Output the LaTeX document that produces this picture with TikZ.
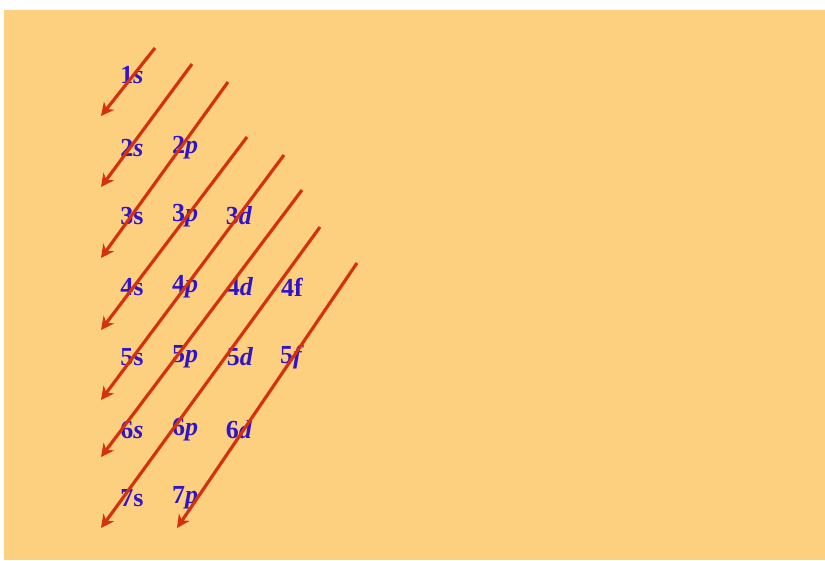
\documentclass[tikz,border=0pt]{standalone}
\usepackage{fontspec}
\setmainfont{Liberation Serif}
\usetikzlibrary{arrows.meta}
\definecolor{bgorange}{RGB}{253,208,128}
\definecolor{arrred}{RGB}{212,50,15}
\definecolor{lblblue}{RGB}{50,20,200}
\begin{document}
\begin{tikzpicture}[x=1pt,y=-1pt,
  orb/.style={text=lblblue,font=\fontsize{26}{28}\selectfont\bfseries,inner sep=0pt,anchor=center},
  diag/.style={draw=arrred,line width=3.2pt,-{Stealth[length=13pt,width=13pt,inset=4pt]}}]
\useasboundingbox (0,0) rectangle (825,560);
\fill[white] (0,0) rectangle (825,560);
\fill[bgorange] (4,10) rectangle (825,560);
% labels
\node[orb] (o1s) at (132,75) {1\textit{s}};
\node[orb] (o2s) at (132,148) {2\textit{s}};
\node[orb] (o2p) at (185,148) {2\textit{p}};
\node[orb] (o3s) at (132,216) {3s};
\node[orb] (o3p) at (185,216) {3\textit{p}};
\node[orb] (o3d) at (239,216) {3\textit{d}};
\node[orb] (o4s) at (132,287) {4s};
\node[orb] (o4p) at (185,287) {4\textit{p}};
\node[orb] (o4d) at (240,287) {4\textit{d}};
\node[orb] (o4f) at (292,287) {4f};
\node[orb] (o5s) at (132,357) {5s};
\node[orb] (o5p) at (185,357) {5\textit{p}};
\node[orb] (o5d) at (240,357) {5\textit{d}};
\node[orb] (o5f) at (292,357) {5\textit{f}};
\node[orb] (o6s) at (132,430) {6\textit{s}};
\node[orb] (o6p) at (185,430) {6\textit{p}};
\node[orb] (o6d) at (239,430) {6\textit{d}};
\node[orb] (o7s) at (132,498) {7s};
\node[orb] (o7p) at (185,498) {7\textit{p}};
% arrow ends
\coordinate (a1) at (155,48);  \coordinate (b1) at (101,116);
\coordinate (a2) at (192,64);  \coordinate (b2) at (101,187);
\coordinate (a3) at (228,82);  \coordinate (b3) at (101,258);
\coordinate (a4) at (247,137); \coordinate (b4) at (101,330);
\coordinate (a5) at (284,155); \coordinate (b5) at (101,400);
\coordinate (a6) at (302,190); \coordinate (b6) at (101,457);
\coordinate (a7) at (320,227); \coordinate (b7) at (101,528);
\coordinate (a8) at (357,263); \coordinate (b8) at (177,528);
\foreach \i in {1,...,8} \draw[diag] (a\i) -- (b\i);
\end{tikzpicture}
\end{document}
